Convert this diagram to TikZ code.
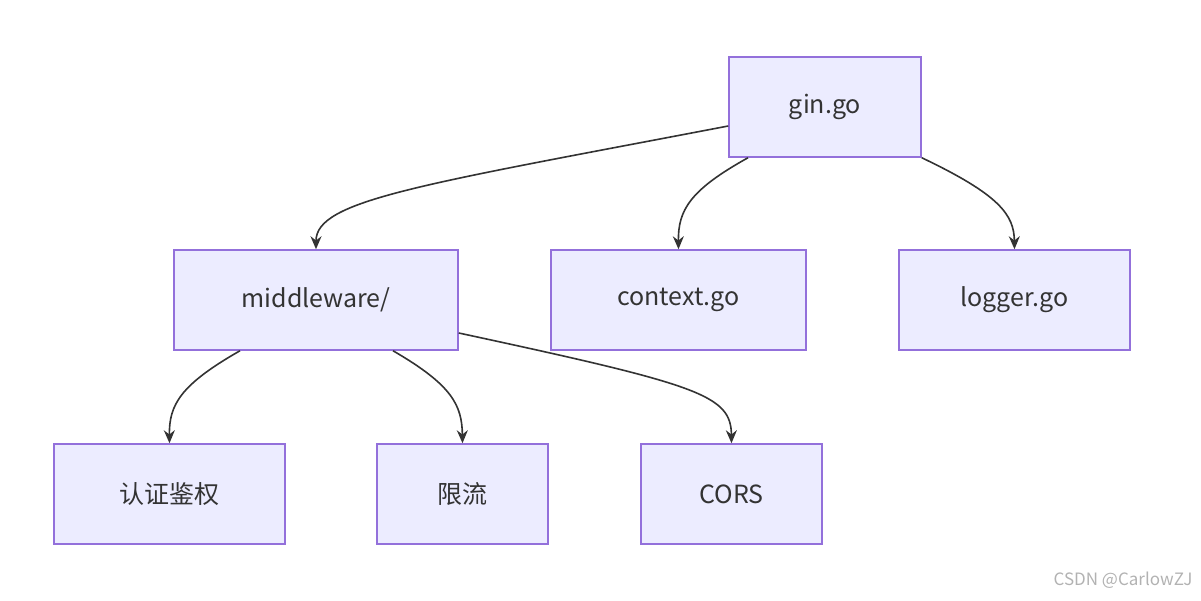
\documentclass[tikz,border=0pt]{standalone}
\usepackage{fontspec}
\setmainfont{Noto Sans CJK SC}
\usetikzlibrary{arrows.meta}
\definecolor{boxfill}{HTML}{ECECFF}
\definecolor{boxline}{HTML}{9370DB}
\definecolor{ink}{HTML}{333333}
\tikzset{
  box/.style={draw=boxline,fill=boxfill,line width=1.5pt,minimum height=100pt,
    text=ink,font=\fontsize{25}{30}\selectfont,inner sep=0pt},
  link/.style={draw=ink,line width=1.6pt,-{Stealth[length=13pt,width=11pt]}}
}
\begin{document}
\begin{tikzpicture}[x=1pt,y=1pt]
\useasboundingbox (0,0) rectangle (1201,600);

\node[box,minimum width=192pt] (gin) at (825,493) {gin.go};
\node[box,minimum width=284pt] (mw) at (316,300) {middleware/};
\node[box,minimum width=255pt] (ctx) at (678.5,300) {context.go};
\node[box,minimum width=231pt] (log) at (1014.5,300) {logger.go};
\node[box,minimum width=231pt] (auth) at (169.5,106) {认证鉴权};
\node[box,minimum width=171pt] (rate) at (462.5,106) {限流};
\node[box,minimum width=181pt] (cors) at (731.5,106) {CORS};

% gin.go
\draw[link] ([yshift=-19pt]gin.west) .. controls (420,415) and (316,400) .. (mw.north);
\draw[link] ([xshift=-77pt]gin.south) .. controls (690,410) and (678,390) .. (ctx.north);
\draw[link] (gin.south east) .. controls (1000,405) and (1014,385) .. (log.north);

% middleware/
\draw[link] ([xshift=-76pt]mw.south) .. controls (180,215) and (169,195) .. (auth.north);
\draw[link] ([xshift=77pt]mw.south) .. controls (452,215) and (462,195) .. (rate.north);
\draw[link] ([yshift=-33pt]mw.east) .. controls (700,215) and (731,205) .. (cors.north);

\node[text=black!30,font=\fontsize{17}{20}\selectfont,anchor=east] (mark) at (1196,20) {CSDN @CarlowZJ};
\end{tikzpicture}
\end{document}
